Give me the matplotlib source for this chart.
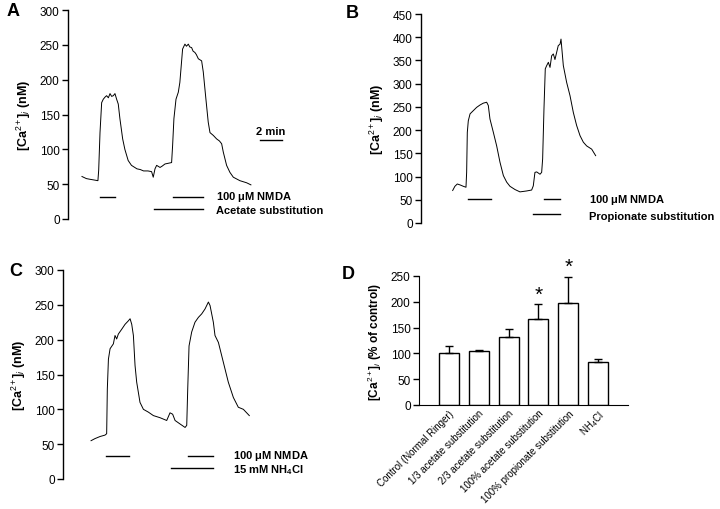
import matplotlib
matplotlib.use("Agg")
import matplotlib.pyplot as plt
import numpy as np

plt.rcParams['font.family'] = ['Liberation Sans', 'DejaVu Sans']
plt.rcParams['mathtext.fontset'] = 'custom'
plt.rcParams['mathtext.rm'] = 'Liberation Sans'
plt.rcParams['mathtext.bf'] = 'Liberation Sans:bold'
plt.rcParams['mathtext.it'] = 'Liberation Sans:italic'

# ---- panel A: acetate substitution (time in min, Ca in nM)
a_time = [0, 0.4, 0.73, 1.1, 1.45, 1.52, 1.64, 1.79, 1.94, 2.1, 2.24, 2.4, 2.55, 2.7, 2.85, 3.0,
          3.15, 3.3, 3.45, 3.7, 3.9, 4.2, 4.5, 5.0, 5.3, 5.6, 6.0, 6.33, 6.48, 6.64, 6.79,
          7.1, 7.3, 7.55, 7.85, 8.15, 8.24, 8.36, 8.55, 8.76, 8.9, 9.15, 9.36, 9.5, 9.67,
          9.8, 9.97, 10.1, 10.27, 10.4, 10.58, 10.88, 11.03, 11.27, 11.48, 11.64, 11.94,
          12.24, 12.5, 12.7, 12.85, 13.15, 13.45, 13.76, 14.36, 14.97, 15.36]
a_ca = [61, 58, 57, 56, 55, 70, 124, 167, 172, 175, 177, 174, 180, 176, 177, 180,
        172, 165, 144, 115, 100, 84, 77, 72, 71, 69, 69, 68, 60, 72, 77,
        74, 76, 79, 80, 81, 105, 144, 172, 182, 196, 244, 251, 248, 251,
        247, 246, 241, 239, 236, 230, 227, 211, 172, 139, 124, 120,
        115, 112, 108, 96, 77, 67, 60, 55, 52, 49]

# ---- panel B: propionate substitution
b_time = [0, 0.2, 0.42, 0.67, 0.97, 1.21, 1.27, 1.33, 1.42, 1.58, 1.88, 2.18, 2.48, 2.78, 3.09,
          3.24, 3.39, 3.7, 4.0, 4.3, 4.61, 4.91, 5.21, 5.67, 6.12, 6.73, 7.18, 7.33, 7.48,
          7.64, 7.94, 8.09, 8.18, 8.3, 8.42, 8.55, 8.7, 8.85, 9.0, 9.15, 9.3, 9.45, 9.6,
          9.76, 9.85, 10.06, 10.36, 10.67, 10.97, 11.27, 11.58, 11.88, 12.18, 12.64, 13.0]
b_ca = [70, 79, 84, 82, 79, 77, 109, 195, 220, 235, 242, 249, 254, 258, 260,
        253, 224, 195, 166, 131, 102, 88, 79, 72, 67, 69, 71, 80, 109,
        110, 105, 109, 138, 245, 332, 339, 346, 335, 360, 364, 352, 367, 382,
        385, 396, 339, 303, 274, 238, 210, 188, 174, 166, 159, 145]

# ---- panel C: NH4Cl
c_time = [0, 0.36, 0.82, 1.27, 1.42, 1.48, 1.58, 1.73, 2.03, 2.18, 2.33, 2.48, 2.79, 3.09,
          3.39, 3.55, 3.7, 3.85, 4.0, 4.15, 4.45, 4.76, 5.21, 5.67, 6.27, 6.88, 7.18, 7.42,
          7.64, 8.09, 8.55, 8.7, 8.79, 8.91, 9.15, 9.45, 9.76, 10.06, 10.36, 10.67, 10.82,
          11.12, 11.27, 11.58, 11.88, 12.18, 12.48, 12.94, 13.39, 13.85, 14.39]
c_ca = [55, 58, 61, 63, 65, 129, 172, 187, 194, 206, 201, 208, 215, 222,
        227, 230, 222, 206, 163, 139, 110, 100, 96, 91, 88, 84, 95, 93,
        84, 79, 74, 77, 129, 191, 211, 225, 232, 237, 244, 254, 249,
        225, 206, 196, 177, 158, 139, 117, 103, 100, 91]

# ---- panel D: summary
conditions = ['Control (Normal Ringer)', '1/3 acetate substitution', '2/3 acetate substitution',
              '100% acetate substitution', '100% propionate substitution', 'NH$_4$Cl']
ca_pct = [100, 104, 132, 167, 198, 84]
ca_err = [15, 3, 16, 28, 50, 6]
signif = [False, False, False, True, True, False]

W, H = 720, 510
fig = plt.figure(figsize=(7.2, 5.1), dpi=100)


def ax_px(left, top, w, h):
    return fig.add_axes([left / W, 1 - (top + h) / H, w / W, h / H])


def trace_axes(ax, ymax, ystep):
    for s in ['top', 'right', 'bottom']:
        ax.spines[s].set_visible(False)
    ax.spines['left'].set_linewidth(1.0)
    ax.set_ylim(0, ymax)
    ax.set_yticks(np.arange(0, ymax + 1, ystep))
    ax.tick_params(axis='y', direction='out', length=4, width=1, labelsize=8.5, pad=2)
    ax.set_xticks([])
    ax.set_ylabel('[Ca$^{2+}$]$_i$ (nM)', fontsize=9, fontweight='bold', labelpad=5)


def bar(ax, t0, t1, y):
    ax.plot([t0, t1], [y, y], color='black', lw=1.0, clip_on=False)


lab = dict(fontsize=8, fontweight='bold', va='center', ha='left', clip_on=False)

# A
axA = ax_px(68, 11, 260, 209)
axA.plot(a_time, a_ca, color='black', lw=0.7)
trace_axes(axA, 300, 50)
axA.set_xlim(-1.27, 22.37)
bar(axA, 1.64, 3.0, 31)
bar(axA, 8.3, 10.97, 31)
bar(axA, 6.55, 10.97, 15)
axA.text(12.2, 33, '100 $\\mathbf{\\mu}$M NMDA', **lab)
axA.text(12.2, 13, 'Acetate substitution', **lab)
bar(axA, 16.2, 18.2, 113)
axA.text(17.2, 119, '2 min', fontsize=8, fontweight='bold', ha='center', va='bottom')

# B
axB = ax_px(421, 15, 260, 209)
axB.plot(b_time, b_ca, color='black', lw=0.7)
trace_axes(axB, 450, 50)
axB.set_xlim(-2.88, 20.76)
bar(axB, 1.42, 3.48, 52)
bar(axB, 8.33, 9.76, 52)
bar(axB, 7.33, 9.76, 19)
axB.text(12.4, 51, '100 $\\mathbf{\\mu}$M NMDA', **lab)
axB.text(12.4, 15, 'Propionate substitution', **lab)

# C
axC = ax_px(63, 271, 260, 209)
axC.plot(c_time, c_ca, color='black', lw=0.7)
trace_axes(axC, 300, 50)
axC.set_xlim(-2.55, 21.09)
bar(axC, 1.36, 3.48, 32.5)
bar(axC, 8.85, 11.06, 32.5)
bar(axC, 7.24, 11.06, 16)
axC.text(12.9, 35, '100 $\\mathbf{\\mu}$M NMDA', **lab)
axC.text(12.9, 14, '15 mM NH$_\\mathbf{4}$Cl', **lab)

# D
axD = ax_px(419, 277, 209, 129)
x = np.arange(len(conditions))
axD.bar(x, ca_pct, width=0.67, color='white', edgecolor='black', linewidth=1.0)
axD.errorbar(x, ca_pct, yerr=[np.zeros(len(ca_err)), ca_err], fmt='none',
             ecolor='black', elinewidth=1.0, capsize=3, capthick=1.0)
for xi, m, e, s in zip(x, ca_pct, ca_err, signif):
    if s:
        axD.text(xi, m + e + 2, '*', fontsize=15, ha='center', va='bottom')
axD.set_xlim(-1, 6)
axD.set_ylim(0, 250)
axD.set_yticks(np.arange(0, 251, 50))
for s in ['top', 'right']:
    axD.spines[s].set_visible(False)
axD.tick_params(axis='y', direction='out', length=4, width=1, labelsize=8.5, pad=2)
axD.tick_params(axis='x', length=0, labelsize=7, pad=2)
axD.set_xticks(x)
axD.set_xticklabels(conditions, rotation=45, ha='right', rotation_mode='anchor')
axD.set_ylabel('[Ca$^{2+}$]$_i$ (% of control)', fontsize=8.5, fontweight='bold', labelpad=5)

# panel letters
for letter, (px, py) in zip('ABCD', [(7, 12), (346, 14), (9, 272), (342, 275)]):
    fig.text(px / W, 1 - py / H, letter, fontsize=13, fontweight='bold', ha='left', va='center')

fig.savefig('out.png', dpi=100)
